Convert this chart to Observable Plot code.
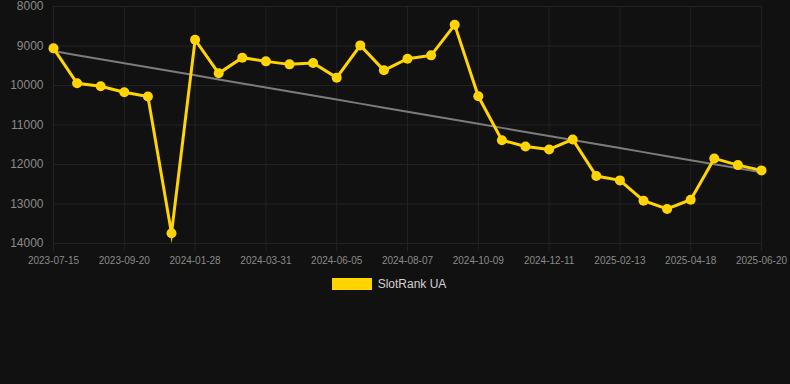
<!DOCTYPE html>
<html><head><meta charset="utf-8">
<script src="https://cdn.jsdelivr.net/npm/d3@7"></script>
<script src="https://cdn.jsdelivr.net/npm/@observablehq/plot@0.6"></script>
<style>
html,body{margin:0;padding:0;background:#111111;}
body{width:790px;height:384px;overflow:hidden;font-family:"Liberation Sans",Arial,sans-serif;}
#legend{display:flex;justify-content:center;align-items:center;height:12px;margin-top:10px;padding-right:12px;}
#legend .sw{width:40px;height:12px;margin-right:6px;}
#legend .lb{font-size:12px;color:#d2d2d2;line-height:12px;}
</style></head><body>
<div id="chart"></div>
<div id="legend"></div>
<script>
const dates = ["2023-07-15","2023-08-06","2023-08-28","2023-09-20","2023-10-12","2023-12-15","2024-01-28","2024-02-18","2024-03-10","2024-03-31","2024-04-22","2024-05-14","2024-06-05","2024-06-26","2024-07-17","2024-08-07","2024-08-28","2024-09-18","2024-10-09","2024-10-30","2024-11-20","2024-12-11","2025-01-01","2025-01-23","2025-02-13","2025-03-06","2025-03-27","2025-04-18","2025-05-09","2025-05-30","2025-06-20"];
const ranks = [9060,9944,10020,10172,10280,13740,8841,9692,9296,9389,9465,9431,9801,8985,9616,9322,9237,8463,10273,11384,11543,11619,11366,12293,12402,12917,13126,12891,11846,12015,12149];
const xTickLabels = ["2023-07-15","2023-09-20","2024-01-28","2024-03-31","2024-06-05","2024-08-07","2024-10-09","2024-12-11","2025-02-13","2025-04-18","2025-06-20"];
const yTicks = [8000,9000,10000,11000,12000,13000,14000];
const seriesName = "SlotRank UA";

const lineColor = "#ffd400";
const gridColor = "#222222";
const data = dates.map((d, i) => ({date: d, rank: ranks[i], i}));

// least-squares trend over point index
const mx = d3.mean(data, d => d.i), my = d3.mean(data, d => d.rank);
const slope = d3.sum(data, d => (d.i - mx) * (d.rank - my)) / d3.sum(data, d => (d.i - mx) ** 2);
const trend = data.map(d => ({date: d.date, rank: my + slope * (d.i - mx)}));

const chart = Plot.plot({
  width: 790,
  height: 268,
  marginTop: 6,
  marginBottom: 25,
  marginLeft: 53,
  marginRight: 29,
  style: {background: "transparent", color: "#8a8a8a", fontFamily: "Liberation Sans, Arial, sans-serif"},
  x: {type: "point", domain: dates, padding: 0, round: false},
  y: {domain: [8000, 14000], reverse: true},
  marks: [
    Plot.gridY(yTicks, {stroke: gridColor, strokeOpacity: 1}),
    Plot.gridX(xTickLabels, {stroke: gridColor, strokeOpacity: 1}),
    Plot.axisY(yTicks, {tickSize: 0, tickPadding: 10, fontSize: 12, fill: "#8a8a8a", label: null, tickFormat: d => String(d)}),
    Plot.axisX(xTickLabels, {tickSize: 8, tickPadding: 5, fontSize: 10, fill: "#8a8a8a", stroke: gridColor, label: null}),
    Plot.line(trend, {x: "date", y: "rank", stroke: "#7c7c7c", strokeWidth: 2}),
    Plot.line(data, {x: "date", y: "rank", stroke: lineColor, strokeWidth: 3, strokeLinejoin: "miter", strokeMiterlimit: 10}),
    Plot.dot(data, {x: "date", y: "rank", r: 5, fill: lineColor, stroke: "none"})
  ]
});
document.getElementById("chart").appendChild(chart);

const lg = document.getElementById("legend");
const sw = document.createElement("div"); sw.className = "sw"; sw.style.background = lineColor;
const lb = document.createElement("div"); lb.className = "lb"; lb.textContent = seriesName;
lg.appendChild(sw); lg.appendChild(lb);
</script>
</body></html>
